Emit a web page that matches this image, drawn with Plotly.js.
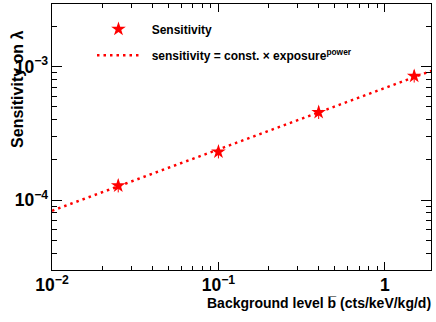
<!DOCTYPE html>
<html>
<head>
<meta charset="utf-8">
<script src="https://cdn.plot.ly/plotly-3.0.1.min.js"></script>
<style>
  html, body { margin: 0; padding: 0; background: #fff; }
  #chart { width: 436px; height: 322px; }
</style>
</head>
<body>
<div id="chart"></div>
<script>
// Background level (cts/keV/kg/d) and sensitivity
const backgroundLevels = [0.025, 0.1, 0.4, 1.5];
const sensitivities = [1.28e-4, 2.3e-4, 4.55e-4, 8.5e-4];
const sensitivityErrors = [1.4e-5, 2.5e-5, 5e-5, 9e-5];

// Fitted power law, end points of the drawn line
const fitLevels = [0.01, 1.9];
const fitSensitivities = [8.3e-5, 9.3e-4];

const RED = '#ff0000';
const FONT = 'Liberation Sans, Arial, Helvetica, sans-serif';
const PAD = '\u00a0\u00a0'; // small gap between legend symbol and text

const pointsTrace = {
    x: backgroundLevels,
    y: sensitivities,
    type: 'scatter',
    mode: 'markers',
    name: PAD + 'Sensitivity',
    legendgroup: 'a',
    marker: { symbol: 'star', size: 11, color: RED, line: { width: 0 } },
    error_y: { type: 'data', array: sensitivityErrors, color: RED, thickness: 1, width: 0 }
};

const fitTrace = {
    x: fitLevels,
    y: fitSensitivities,
    type: 'scatter',
    mode: 'lines',
    name: PAD + 'sensitivity = const. \u00d7 exposure<sup>power</sup>',
    legendgroup: 'b',
    line: { color: RED, width: 2.5, dash: '2.5px,4px' }
};

const axisCommon = {
    type: 'log',
    showline: true,
    linecolor: '#000',
    linewidth: 1,
    mirror: 'ticks',
    ticks: 'inside',
    tickcolor: '#000',
    showgrid: false,
    zeroline: false,
    dtick: 1,
    exponentformat: 'power',
    tickfont: { family: FONT, size: 14, color: '#000', weight: 'bold' },
    fixedrange: true
};

const layout = {
    width: 436,
    height: 322,
    margin: { l: 52, r: 5, t: 4, b: 52 },
    paper_bgcolor: '#fff',
    plot_bgcolor: '#fff',
    xaxis: Object.assign({}, axisCommon, {
        range: [-2, 0.277],
        ticklen: 8,
        ticklabelstandoff: 0,
        minor: { ticks: 'inside', ticklen: 4, dtick: 'D1', tickcolor: '#000' }
    }),
    yaxis: Object.assign({}, axisCommon, {
        range: [-4.525, -2.53],
        ticklen: 10,
        minor: { ticks: 'inside', ticklen: 5, dtick: 'D1', tickcolor: '#000' }
    }),
    showlegend: true,
    legend: {
        x: 0.1055,
        y: 0.96,
        xanchor: 'left',
        yanchor: 'top',
        bgcolor: 'rgba(0,0,0,0)',
        itemwidth: 43,
        tracegroupgap: 7,
        traceorder: 'grouped',
        font: { family: FONT, size: 12, color: '#000', weight: 'bold' }
    },
    annotations: [
        {
            text: 'Background level b\u0305 (cts/keV/kg/d)',
            xref: 'paper', yref: 'paper',
            x: 1.005, y: -0.125,
            xanchor: 'right', yanchor: 'middle',
            showarrow: false,
            font: { family: FONT, size: 14, color: '#000', weight: 'bold' }
        },
        {
            text: 'Sensitivity on \u03bb',
            xref: 'paper', yref: 'paper',
            x: -0.0897, y: 0.677,
            xanchor: 'center', yanchor: 'middle',
            textangle: -90,
            showarrow: false,
            font: { family: FONT, size: 16, color: '#000', weight: 'bold' }
        }
    ]
};

Plotly.newPlot('chart', [pointsTrace, fitTrace], layout, { displayModeBar: false, staticPlot: true });
</script>
</body>
</html>
